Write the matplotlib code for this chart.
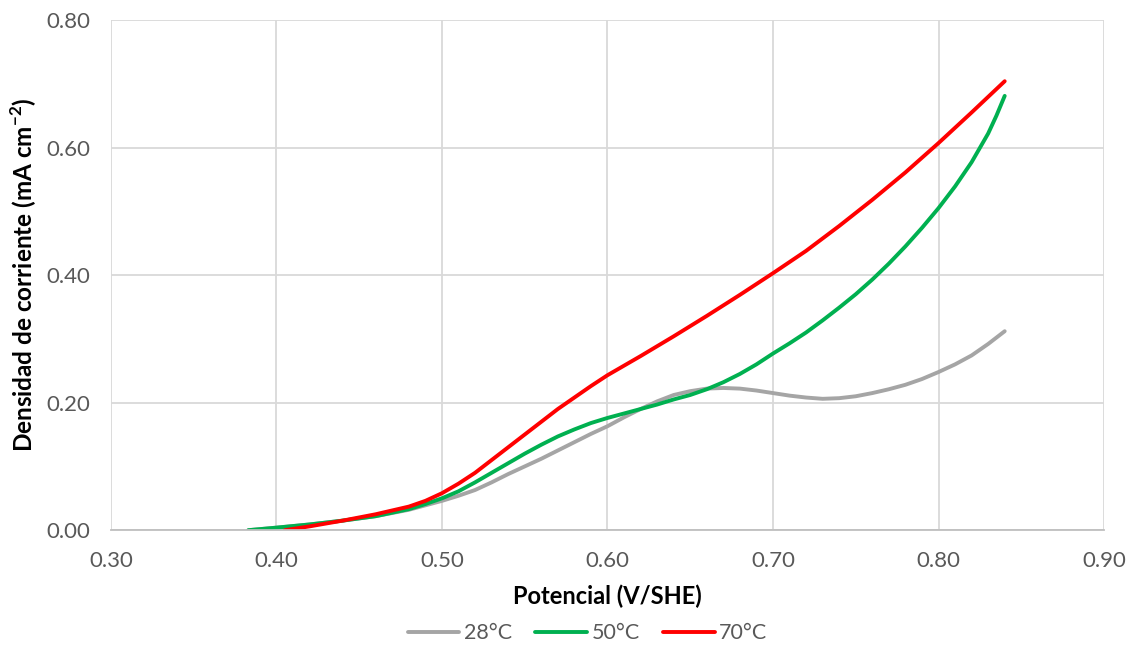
import matplotlib

matplotlib.use("Agg")
import matplotlib.pyplot as plt
from matplotlib.ticker import FormatStrFormatter, MultipleLocator

plt.rcParams["font.family"] = ["Lato", "DejaVu Sans"]
plt.rcParams["mathtext.fontset"] = "custom"
plt.rcParams["mathtext.rm"] = "Lato"
plt.rcParams["mathtext.bf"] = "Lato:bold"

# Curvas de polarizacion
potencial_28 = [0.383, 0.40, 0.42, 0.44, 0.46, 0.48, 0.49, 0.50, 0.51, 0.52, 0.53, 0.54, 0.55, 0.56,
                0.57, 0.58, 0.59, 0.60, 0.61, 0.62, 0.63, 0.64, 0.65, 0.66, 0.67, 0.68, 0.69, 0.70,
                0.71, 0.72, 0.73, 0.74, 0.75, 0.76, 0.77, 0.78, 0.79, 0.80, 0.81, 0.82, 0.83, 0.84]
corriente_28 = [0.000, 0.004, 0.009, 0.015, 0.022, 0.032, 0.039, 0.046, 0.054, 0.063, 0.075, 0.088,
                0.100, 0.112, 0.125, 0.138, 0.151, 0.163, 0.177, 0.190, 0.202, 0.212, 0.218, 0.222,
                0.223, 0.222, 0.219, 0.215, 0.211, 0.208, 0.206, 0.207, 0.210, 0.215, 0.221, 0.228,
                0.237, 0.248, 0.260, 0.274, 0.292, 0.312]

potencial_50 = [0.383, 0.40, 0.42, 0.44, 0.46, 0.48, 0.49, 0.50, 0.51, 0.52, 0.53, 0.54, 0.55, 0.56,
                0.57, 0.58, 0.59, 0.60, 0.61, 0.62, 0.63, 0.64, 0.65, 0.66, 0.67, 0.68, 0.69, 0.70,
                0.71, 0.72, 0.73, 0.74, 0.75, 0.76, 0.77, 0.78, 0.79, 0.80, 0.81, 0.82, 0.83, 0.835,
                0.84]
corriente_50 = [0.000, 0.004, 0.009, 0.015, 0.022, 0.033, 0.041, 0.050, 0.061, 0.075, 0.090, 0.105,
                0.120, 0.134, 0.147, 0.158, 0.168, 0.176, 0.183, 0.190, 0.197, 0.205, 0.212, 0.221,
                0.232, 0.245, 0.260, 0.277, 0.293, 0.310, 0.329, 0.349, 0.370, 0.393, 0.418, 0.445,
                0.474, 0.505, 0.539, 0.577, 0.622, 0.650, 0.681]

potencial_70 = [0.405, 0.42, 0.44, 0.46, 0.48, 0.49, 0.50, 0.51, 0.52, 0.53, 0.54, 0.55, 0.56,
                0.57, 0.58, 0.59, 0.60, 0.62, 0.64, 0.66, 0.68, 0.70, 0.72, 0.74, 0.76, 0.78,
                0.80, 0.82, 0.84]
corriente_70 = [0.000, 0.006, 0.015, 0.025, 0.037, 0.046, 0.058, 0.073, 0.090, 0.110, 0.130, 0.150,
                0.170, 0.190, 0.208, 0.226, 0.243, 0.273, 0.304, 0.336, 0.369, 0.403, 0.438, 0.477,
                0.518, 0.561, 0.607, 0.655, 0.704]

series = [
    ("28°C", potencial_28, corriente_28, "#A5A5A5"),
    ("50°C", potencial_50, corriente_50, "#00B050"),
    ("70°C", potencial_70, corriente_70, "#FF0000"),
]

fig = plt.figure(figsize=(11.3, 6.45), dpi=100)
ax = fig.add_axes([0.0982, 0.178, 0.8788, 0.791])

for label, x, y, color in series:
    ax.plot(x, y, color=color, linewidth=2.8, label=label,
            solid_capstyle="round", solid_joinstyle="round")

ax.set_xlim(0.30, 0.90)
ax.set_ylim(0.0, 0.80)
ax.xaxis.set_major_locator(MultipleLocator(0.10))
ax.yaxis.set_major_locator(MultipleLocator(0.20))
ax.xaxis.set_major_formatter(FormatStrFormatter("%.2f"))
ax.yaxis.set_major_formatter(FormatStrFormatter("%.2f"))
ax.grid(True, color="#D9D9D9", linewidth=1.3)
ax.set_axisbelow(True)
for side in ["top", "right", "left"]:
    ax.spines[side].set_visible(False)
ax.spines["bottom"].set_color("#BFBFBF")
ax.spines["bottom"].set_linewidth(1.3)
ax.tick_params(length=0, labelsize=16, colors="#595959", pad=15)

ax.set_xlabel("Potencial (V/SHE)", fontsize=17, fontweight="bold", labelpad=10)
ax.set_ylabel(r"Densidad de corriente (mA cm$^{\mathbf{-2}}$)", fontsize=17.5,
              fontweight="bold", labelpad=5)

ax.legend(loc="center", bbox_to_anchor=(0.48, -0.202), ncol=3, frameon=False,
          fontsize=15.5, handlelength=2.4, handletextpad=0.2, columnspacing=1.1,
          labelcolor="#595959")

fig.savefig("out.png", dpi=100)
